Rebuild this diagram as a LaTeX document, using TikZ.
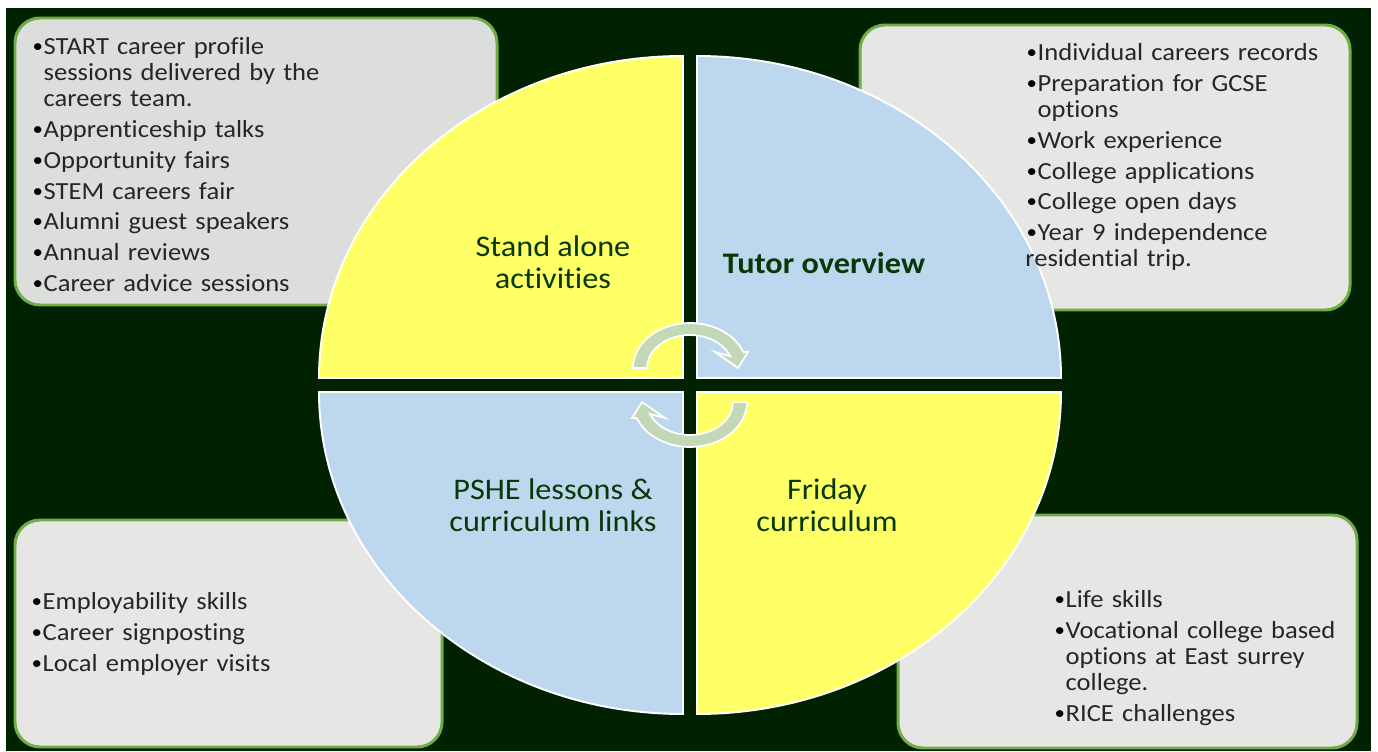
\documentclass[tikz,border=0pt]{standalone}
\usepackage{fontspec}
\setmainfont{Carlito}[FakeStretch=1.08,Ligatures=NoCommon]
\definecolor{bgdark}{HTML}{012201}
\definecolor{boxgreen}{HTML}{70AD47}
\definecolor{cardgray}{HTML}{E6E7E5}
\definecolor{cardgraydk}{HTML}{DCDEDB}
\definecolor{quadyellow}{HTML}{FFFF66}
\definecolor{quadblue}{HTML}{BDD7EE}
\definecolor{turngreen}{HTML}{C3D8B7}
\definecolor{labelgreen}{HTML}{083808}
\definecolor{itemgray}{HTML}{262626}
\newcommand{\litem}[1]{\par\hangindent=0.5em\hangafter=1\noindent\makebox[0.5em][l]{\kern0.05em\raisebox{0.08em}{\fontsize{11}{11}\selectfont\color{black}•}}#1}

\begin{document}
\begin{tikzpicture}[x=0.02cm,y=0.02cm,
  card/.style={draw=boxgreen,line width=1.7pt,rounded corners=0.5cm},
  quad/.style={draw=white,line width=1.1pt},
  turn/.style={fill=turngreen,draw=white,line width=1pt},
  quadlabel/.style={align=center,text=labelgreen,font=\fontsize{17}{18.2}\selectfont},
  items/.style={anchor=north west,inner sep=0pt,text width=9cm,align=left,text=itemgray,
    font=\fontsize{14}{14.8}\selectfont,execute at begin node=\setlength{\parskip}{2.8pt}}]
\useasboundingbox (0,0) rectangle (1378,751);
\fill[white] (0,0) rectangle (1378,751);
\fill[bgdark] (6,0) rectangle (1371,743);

\draw[card,fill=cardgraydk] (15,446) rectangle (497,733);
\draw[card,fill=cardgray] (860,441) rectangle (1350,726);
\draw[card,fill=cardgray] (15,4) rectangle (442,231);
\draw[card,fill=cardgray] (898,3) rectangle (1357,236);

\foreach \cx/\cy/\sa/\col in {683/373/90/quadyellow,697/373/0/quadblue,683/359/180/quadblue,697/359/270/quadyellow}
  \filldraw[quad,fill=\col] (\cx,\cy) -- ++(\sa:364 and 322) arc[start angle=\sa,delta angle=90,x radius=364,y radius=322] -- cycle;

\coordinate (topc) at (690,383);
\coordinate (botc) at (690,349);
\filldraw[turn] ([shift={(180:57 and 45)}]topc) arc[start angle=180,end angle=21,x radius=57,y radius=45]
  -- (748,399) -- (738,383) -- (715,399) -- ([shift={(21:43 and 33)}]topc)
  arc[start angle=21,end angle=180,x radius=43,y radius=33] -- cycle;
\filldraw[turn] ([shift={(0:57 and 45)}]botc) arc[start angle=0,end angle=-159,x radius=57,y radius=45]
  -- (632,333) -- (642,349) -- (665,333) -- ([shift={(-159:43 and 33)}]botc)
  arc[start angle=-159,end angle=0,x radius=43,y radius=33] -- cycle;

\node[quadlabel] (stand) at (553,489) {Stand alone\\activities};
\node[quadlabel,font=\fontsize{17}{18.2}\selectfont\bfseries] (tutor) at (824,488) {Tutor overview};
\node[quadlabel] (pshe) at (553,246) {PSHE lessons \&\\curriculum links};
\node[quadlabel] (friday) at (827,246) {Friday\\curriculum};

\node[items] (standlist) at (31,728) {\litem{START career profile\newline sessions delivered by the\newline careers team.}
  \litem{Apprenticeship talks}\litem{Opportunity fairs}\litem{STEM careers fair}
  \litem{Alumni guest speakers}\litem{Annual reviews}\litem{Career advice sessions}};
\node[items] (tutorlist) at (1025,722) {\litem{Individual careers records}
  \litem{Preparation for GCSE\newline options}\litem{Work experience}\litem{College applications}
  \litem{College open days}\litem{Year 9 independence\newline residential trip.}};
\node[items] (pshelist) at (30,173) {\litem{Employability skills}\litem{Career signposting}\litem{Local employer visits}};
\node[items] (fridaylist) at (1053,175) {\litem{Life skills}\litem{Vocational college based\newline options at East surrey\newline college.}
  \litem{RICE challenges}};
\end{tikzpicture}
\end{document}
